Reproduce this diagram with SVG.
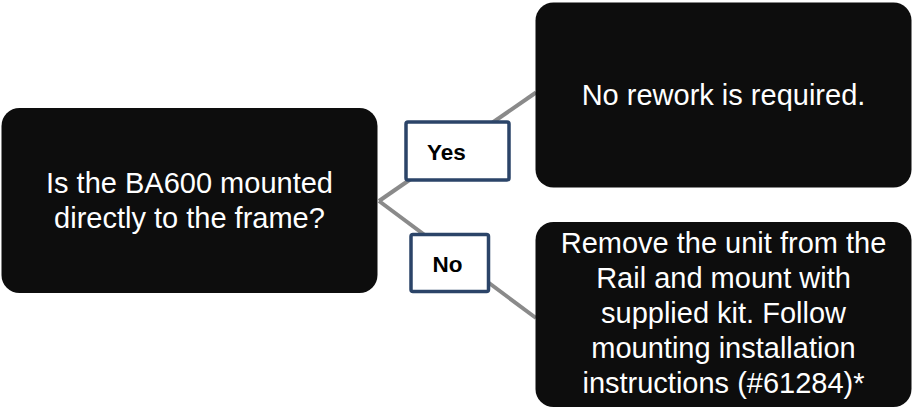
<svg xmlns="http://www.w3.org/2000/svg" width="914" height="411" viewBox="0 0 914 411">
<style>
.node{fill:#0d0d0d;}
.ntext{fill:#ffffff;font-family:"Liberation Sans",Arial,sans-serif;font-size:29px;text-anchor:middle;}
.lbl{fill:#ffffff;stroke:#2b4468;stroke-width:3.5;}
.ltext{fill:#000000;font-family:"Liberation Sans",Arial,sans-serif;font-size:22.5px;font-weight:bold;}
.conn{stroke:#8a8a8a;stroke-width:4;fill:none;}
</style>
<rect width="914" height="411" fill="#ffffff"/>
<g id="connectors">
<line class="conn" x1="379" y1="201" x2="536" y2="92.5"/>
<line class="conn" x1="379" y1="201" x2="536" y2="318"/>
</g>
<g id="node-question">
<rect class="node" x="1.5" y="108" width="376" height="185" rx="18"/>
<text class="ntext" x="189.5" y="193">Is the BA600 mounted</text>
<text class="ntext" x="189.5" y="228">directly to the frame?</text>
</g>
<g id="node-yes-result">
<rect class="node" x="535.5" y="2.5" width="376" height="185" rx="18"/>
<text class="ntext" x="723.5" y="105">No rework is required.</text>
</g>
<g id="node-no-result">
<rect class="node" x="535.5" y="222" width="376" height="185" rx="18"/>
<text class="ntext" x="723.5" y="253">Remove the unit from the</text>
<text class="ntext" x="723.5" y="288">Rail and mount with</text>
<text class="ntext" x="723.5" y="323">supplied kit. Follow</text>
<text class="ntext" x="723.5" y="358">mounting installation</text>
<text class="ntext" x="723.5" y="393">instructions (#61284)*</text>
</g>
<g id="label-yes">
<rect class="lbl" x="406" y="122" width="103" height="58" rx="2"/>
<text class="ltext" x="427" y="159.5">Yes</text>
</g>
<g id="label-no">
<rect class="lbl" x="411" y="234.5" width="77.5" height="57" rx="2"/>
<text class="ltext" x="432.5" y="271.5">No</text>
</g>
</svg>
